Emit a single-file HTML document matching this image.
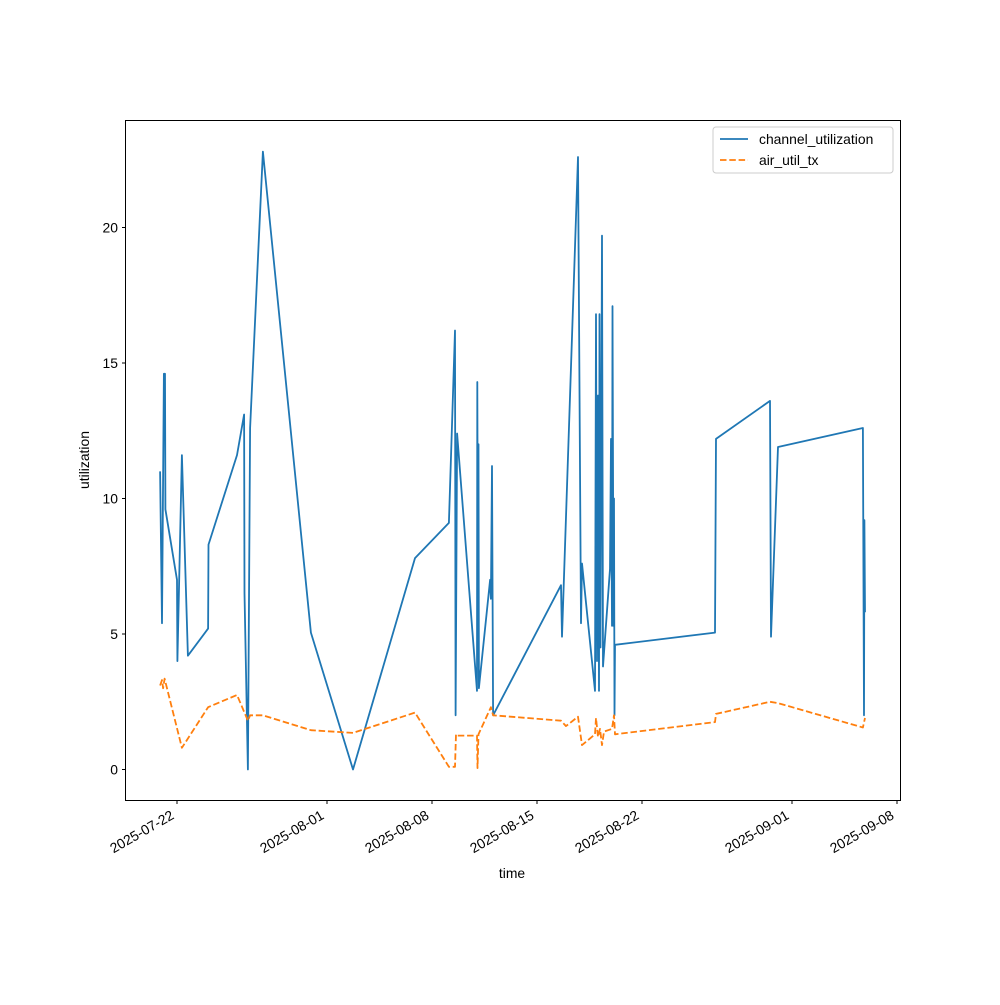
<!DOCTYPE html>
<html><head><meta charset="utf-8"><style>
body{margin:0;background:#fff}
svg{font-family:"Liberation Sans","DejaVu Sans",sans-serif}
</style></head><body>
<svg width="1000" height="1000" viewBox="0 0 1000 1000" xmlns="http://www.w3.org/2000/svg">
<rect x="0" y="0" width="1000" height="1000" fill="#fff"/>
<g id="plot"></g>
<rect x="125.5" y="120.5" width="775" height="680" fill="none" stroke="#000" stroke-width="1"/>
<g id="xt"></g><g id="yt"></g>
<text x="512" y="878" font-size="13.9" text-anchor="middle">time</text>
<text x="89" y="460" font-size="13.9" text-anchor="middle" transform="rotate(-90 89 460)">utilization</text>
<g>
<rect x="713" y="127" width="180" height="46" rx="3" fill="#fff" stroke="#ccc"/>
<g>
<line x1="720" y1="139" x2="748" y2="139" stroke="#1f77b4" stroke-width="1.8"/>
<text x="759" y="144" font-size="13.9">channel_utilization</text></g>
<g>
<line x1="720" y1="160" x2="748" y2="160" stroke="#ff7f0e" stroke-width="1.8" stroke-dasharray="6.5,2.8"/>
<text x="759" y="165" font-size="13.9">air_util_tx</text></g>
</g>
</svg>
<script>
// days since 2025-07-22
const chDays=[-1.13,-1.0,-0.87,-0.8,-0.77,0.0,0.03,0.33,0.73,2.07,2.1,4.0,4.47,4.5,4.73,4.87,5.73,8.93,11.73,15.87,18.13,18.53,18.57,18.67,20.0,20.02,20.07,20.1,20.13,20.87,20.93,21.0,21.07,25.6,25.67,26.73,26.93,27.0,27.87,27.93,28.0,28.07,28.13,28.17,28.23,28.33,28.4,28.87,28.93,29.0,29.03,29.1,29.13,29.17,29.2,35.87,35.93,39.53,39.6,40.07,45.73,45.8,45.83,45.87];
const chVals=[11.0,5.4,14.6,14.6,9.6,7.0,4.0,11.6,4.2,5.2,8.3,11.6,13.1,6.5,0.0,12.6,22.8,5.05,0.0,7.8,9.1,16.2,2.0,12.4,2.9,14.3,4.4,12.0,3.0,7.0,6.3,11.2,2.0,6.8,4.9,22.6,5.4,7.6,2.9,16.8,4.0,13.8,2.9,16.8,4.5,19.7,3.8,7.4,12.2,5.3,17.1,5.3,10.0,2.0,4.6,5.05,12.2,13.6,4.9,11.9,12.6,2.0,9.2,5.8];
const airDays=[-1.13,-1.0,-0.93,-0.83,0.33,2.07,4.0,4.73,4.87,5.73,8.93,11.73,15.87,18.13,18.53,18.6,18.67,20.0,20.03,20.1,20.93,21.07,25.6,25.93,26.73,27.0,27.87,27.93,28.07,28.2,28.33,28.47,29.0,29.13,29.2,35.87,35.93,39.53,40.07,45.73,45.87];
const airVals=[3.1,3.3,3.0,3.35,0.8,2.3,2.75,1.8,2.0,2.0,1.45,1.35,2.1,0.1,0.1,1.3,1.25,1.25,0.05,1.3,2.3,2.0,1.8,1.6,1.95,0.9,1.3,1.9,1.2,1.5,0.9,1.4,1.5,2.0,1.3,1.75,2.05,2.5,2.45,1.55,1.9];
const xTickDays=[0,10,17,24,31,41,48];
const xTickLabels=["2025-07-22","2025-08-01","2025-08-08","2025-08-15","2025-08-22","2025-09-01","2025-09-08"];
const yTicks=[0,5,10,15,20];
const X=d=>177+15*d, Y=v=>769.5-27.1*v;
const NS="http://www.w3.org/2000/svg";
const plot=document.getElementById('plot');
function line(days,vals,color,dash,name){
  const p=document.createElementNS(NS,'polyline');
  p.setAttribute('points',days.map((d,i)=>X(d).toFixed(1)+','+Y(vals[i]).toFixed(1)).join(' '));
  p.setAttribute('fill','none');p.setAttribute('stroke',color);p.setAttribute('stroke-width','1.8');
  p.setAttribute('stroke-linejoin','round');
  if(dash)p.setAttribute('stroke-dasharray',dash);
  
  
  plot.appendChild(p);
}
line(chDays,chVals,'#1f77b4',null,'channel-utilization-line');
line(airDays,airVals,'#ff7f0e','6.5,2.8','air-util-tx-line');
const xt=document.getElementById('xt');
xTickDays.forEach((d,i)=>{
  const x=X(d);
  const t=document.createElementNS(NS,'line');
  t.setAttribute('x1',x);t.setAttribute('x2',x);t.setAttribute('y1',800.5);t.setAttribute('y2',804);t.setAttribute('stroke','#000');
  
  
  xt.appendChild(t);
  const lx=x-2, ly=818;
  const l=document.createElementNS(NS,'text');
  l.setAttribute('x',lx);l.setAttribute('y',ly);l.setAttribute('font-size','13.9');l.setAttribute('text-anchor','end');
  l.setAttribute('transform','rotate(-30 '+lx+' '+ly+')');
  l.textContent=xTickLabels[i];
  
  
  xt.appendChild(l);
});
const yt=document.getElementById('yt');
yTicks.forEach(v=>{
  const y=Y(v);
  const t=document.createElementNS(NS,'line');
  t.setAttribute('x1',122);t.setAttribute('x2',125.5);t.setAttribute('y1',y);t.setAttribute('y2',y);t.setAttribute('stroke','#000');
  
  
  yt.appendChild(t);
  const l=document.createElementNS(NS,'text');
  l.setAttribute('x',118);l.setAttribute('y',y+5);l.setAttribute('font-size','13.9');l.setAttribute('text-anchor','end');
  l.textContent=v;
  
  
  yt.appendChild(l);
});
</script>
</body></html>
